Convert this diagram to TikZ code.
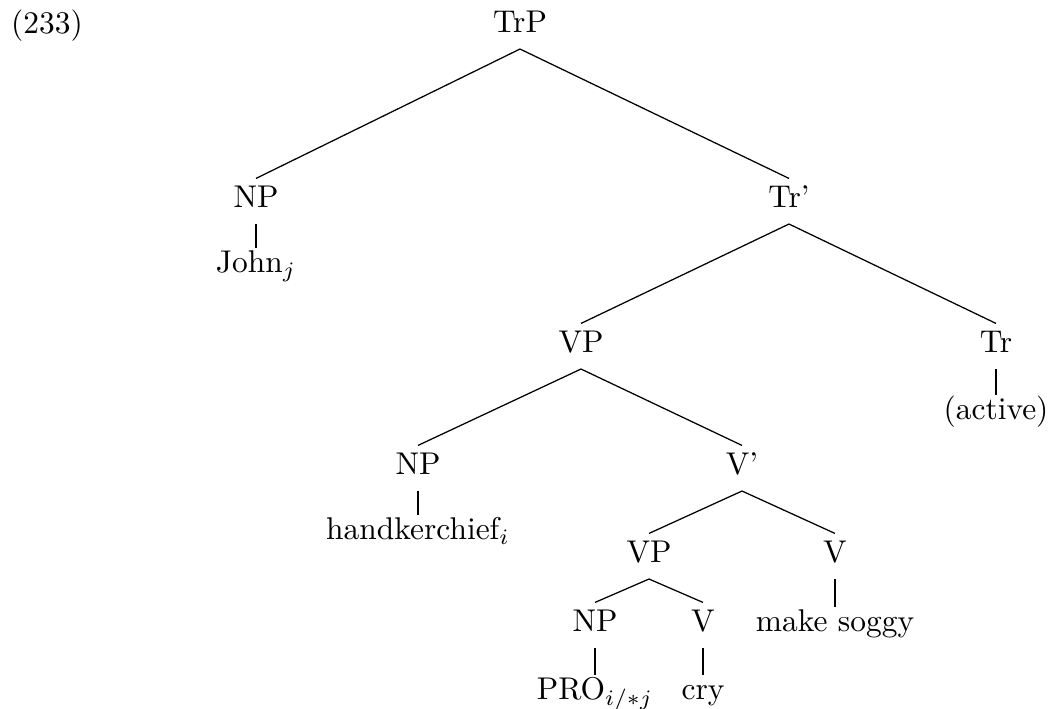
\documentclass[tikz,border=0pt]{standalone}
\usepackage{tikz}
\usetikzlibrary{positioning}

\begin{document}
\begin{tikzpicture}[x=0.318pt, y=-0.318pt, line width=0.4pt,
    cat/.style={anchor=base, text height=6.4pt, text depth=2.1pt, inner ysep=2.8pt},
    leaf/.style={shorten >=-1.5pt}]
  \useasboundingbox (0,0) rectangle (1048,709);
  \node[anchor=base] (exnum) at (47,34) {(233)};
  \node[cat] (trp) at (520,33) {TrP};
  \node[cat] (np1) at (256,208) {NP};
  \node[cat] (john) at (256,273) {John$_j$};
  \node[cat] (trbar) at (789,208) {Tr'};
  \node[cat] (vp1) at (581,353) {VP};
  \node[cat] (tr) at (996,353) {Tr};
  \node[cat] (active) at (996,420) {(active)};
  \node[cat] (np2) at (418,475) {NP};
  \node[cat] (hand) at (418,540) {handkerchief$_i$};
  \node[cat] (vbar) at (742,475) {V'};
  \node[cat] (vp2) at (649,563) {VP};
  \node[cat] (v1) at (835,563) {V};
  \node[cat] (soggy) at (835,632) {make soggy};
  \node[cat] (np3) at (595,632) {NP};
  \node[cat] (pro) at (595,700) {PRO$_{i/*j}$};
  \node[cat] (v2) at (703,632) {V};
  \node[cat] (cry) at (703,700) {cry};
  \draw (trp.south) -- (np1.north);
  \draw (trp.south) -- (trbar.north);
  \draw[leaf] (np1.south) -- (john.north);
  \draw (trbar.south) -- (vp1.north);
  \draw (trbar.south) -- (tr.north);
  \draw[leaf] (tr.south) -- (active.north);
  \draw (vp1.south) -- (np2.north);
  \draw (vp1.south) -- (vbar.north);
  \draw[leaf] (np2.south) -- (hand.north);
  \draw (vbar.south) -- (vp2.north);
  \draw (vbar.south) -- (v1.north);
  \draw[leaf] (v1.south) -- (soggy.north);
  \draw (vp2.south) -- (np3.north);
  \draw (vp2.south) -- (v2.north);
  \draw[leaf] (np3.south) -- (pro.north);
  \draw[leaf] (v2.south) -- (cry.north);
\end{tikzpicture}
\end{document}
